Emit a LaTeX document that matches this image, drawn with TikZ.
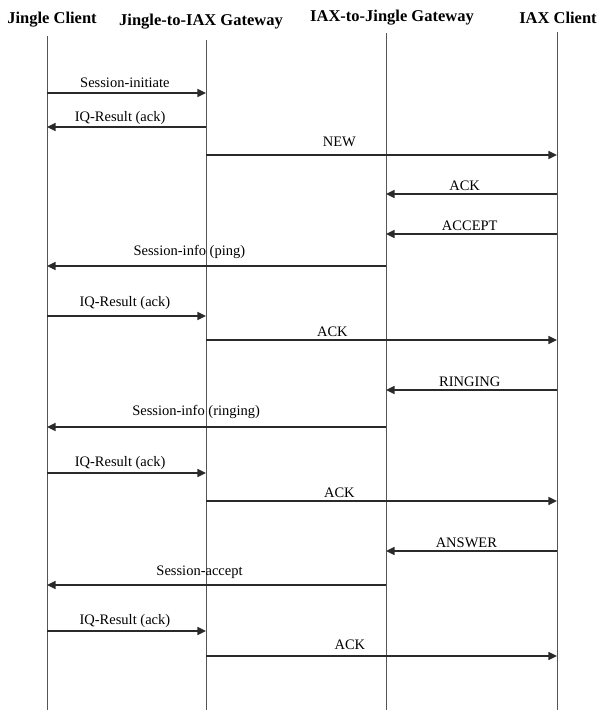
\documentclass[tikz,border=0pt]{standalone}
\usepackage{fontspec}
\setmainfont{Liberation Serif}
\usepackage{tikz}
\usetikzlibrary{arrows.meta}
\definecolor{lifecolor}{HTML}{555555}
\definecolor{msgcolor}{HTML}{2A2A2A}
\tikzset{
  partyhead/.style={
    font=\fontsize{16.5}{18}\selectfont\bfseries,
    inner sep=2pt,
    anchor=base
  },
  lifeline/.style={draw=lifecolor,line width=0.9pt},
  msgarrow/.style={-{Triangle[length=3mm,width=2.8mm]},draw=msgcolor,line width=1.4pt},
  msglabel/.style={
    font=\fontsize{14.5}{16}\selectfont,
    above=1pt,
    inner sep=2pt
  }
}

\begin{document}
\begin{tikzpicture}[x=1pt,y=-1pt]
  \useasboundingbox (0,0) rectangle (600,710);
  % participants
  \node[partyhead] (jc) at (52,23) {Jingle Client};
  \node[partyhead] (jg) at (201,25) {Jingle-to-IAX Gateway};
  \node[partyhead] (ig) at (392,21) {IAX-to-Jingle Gateway};
  \node[partyhead] (ic) at (558,23) {IAX Client};
  \coordinate (jcend) at (47,710);
  \coordinate (jgend) at (206,710);
  \coordinate (igend) at (386,710);
  \coordinate (icend) at (557,710);
  \draw[lifeline] (jcend |- 0,36) -- (jcend);
  \draw[lifeline] (jgend |- 0,40) -- (jgend);
  \draw[lifeline] (igend |- 0,33) -- (igend);
  \draw[lifeline] (icend |- 0,32) -- (icend);
  % messages
  \draw[msgarrow] (jcend |- 0,93) -- node[msglabel,pos=0.49,yshift=2pt] (m1) {Session-initiate} (jgend |- 0,93);
  \draw[msgarrow] (jgend |- 0,127) -- node[msglabel,pos=0.54,yshift=-1pt] (m2) {IQ-Result (ack)} (jcend |- 0,127);
  \draw[msgarrow] (jgend |- 0,155) -- node[msglabel,pos=0.38,yshift=5pt] (m3) {NEW} (icend |- 0,155);
  \draw[msgarrow] (icend |- 0,194) -- node[msglabel,pos=0.54] (m4) {ACK} (igend |- 0,194);
  \draw[msgarrow] (icend |- 0,234) -- node[msglabel,pos=0.51] (m5) {ACCEPT} (igend |- 0,234);
  \draw[msgarrow] (igend |- 0,266) -- node[msglabel,pos=0.58,yshift=4pt] (m6) {Session-info (ping)} (jcend |- 0,266);
  \draw[msgarrow] (jcend |- 0,316) -- node[msglabel,pos=0.49,yshift=3pt] (m7) {IQ-Result (ack)} (jgend |- 0,316);
  \draw[msgarrow] (jgend |- 0,340) -- node[msglabel,pos=0.36] (m8) {ACK} (icend |- 0,340);
  \draw[msgarrow] (icend |- 0,390) -- node[msglabel,pos=0.51] (m9) {RINGING} (igend |- 0,390);
  \draw[msgarrow] (igend |- 0,427) -- node[msglabel,pos=0.56,yshift=5pt] (m10) {Session-info (ringing)} (jcend |- 0,427);
  \draw[msgarrow] (jcend |- 0,473) -- node[msglabel,pos=0.46] (m11) {IQ-Result (ack)} (jgend |- 0,473);
  \draw[msgarrow] (jgend |- 0,501) -- node[msglabel,pos=0.38] (m12) {ACK} (icend |- 0,501);
  \draw[msgarrow] (icend |- 0,551) -- node[msglabel,pos=0.53] (m13) {ANSWER} (igend |- 0,551);
  \draw[msgarrow] (igend |- 0,585) -- node[msglabel,pos=0.55,yshift=3pt] (m14) {Session-accept} (jcend |- 0,585);
  \draw[msgarrow] (jcend |- 0,631) -- node[msglabel,pos=0.49] (m15) {IQ-Result (ack)} (jgend |- 0,631);
  \draw[msgarrow] (jgend |- 0,656) -- node[msglabel,pos=0.41,yshift=3pt] (m16) {ACK} (icend |- 0,656);
\end{tikzpicture}
\end{document}
